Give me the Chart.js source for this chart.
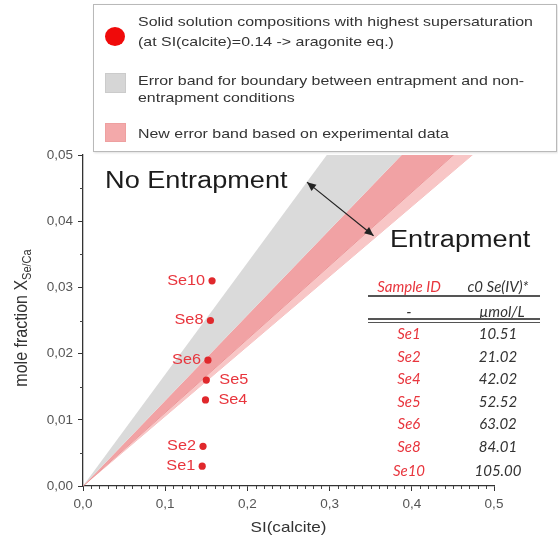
<!DOCTYPE html>
<html>
<head>
<meta charset="utf-8">
<script src="https://cdn.jsdelivr.net/npm/chart.js@4.4.1/dist/chart.umd.min.js"></script>
<style>
  html, body { margin: 0; padding: 0; background: #fff; }
  #wrap { position: relative; width: 558px; height: 544px; overflow: hidden;
          font-family: "Liberation Sans", Arial, sans-serif; }
  #chart { position: absolute; left: 0; top: 0; }
  .box { position: absolute; left: 93px; top: 4px; width: 464px; height: 148px;
         border: 1px solid #b9b9b9; box-sizing: border-box; background: #fff;
         box-shadow: 1px 1px 2px rgba(0,0,0,0.12); }
  .abs { position: absolute; white-space: nowrap; }
  .wide { display: inline-block; transform: scaleX(1.18); transform-origin: 0 50%; }
  .ltxt { font-size: 13.5px; color: #333; line-height: 18px; }
  .tbl { font-family: Lato, "Open Sans", sans-serif; font-style: italic; font-size: 15px;
         line-height: 20px; text-align: center; color: #333; }
  .red { color: #e8353d; }
  .rule { position: absolute; background: #555; }
</style>
</head>
<body>
<div id="wrap">
  <canvas id="chart" width="558" height="544"></canvas>

  <!-- legend box -->
  <div class="box"></div>
  <div class="abs" style="left:105px;top:27px;width:20px;height:19px;border-radius:50%;background:#f00a0a;"></div>
  <div class="abs ltxt" style="left:138px;top:13px;"><span class="wide">Solid solution compositions with highest supersaturation</span></div>
  <div class="abs ltxt" style="left:138px;top:33px;"><span class="wide">(at SI(calcite)=0.14 -&gt; aragonite eq.)</span></div>
  <div class="abs" style="left:105px;top:73px;width:21px;height:20px;background:#d6d6d6;border:1px solid #cbcbcb;box-sizing:border-box;"></div>
  <div class="abs ltxt" style="left:138px;top:72px;"><span class="wide">Error band for boundary between entrapment and non-</span></div>
  <div class="abs ltxt" style="left:138px;top:89px;"><span class="wide">entrapment conditions</span></div>
  <div class="abs" style="left:105px;top:123px;width:21px;height:19px;background:#f3a9aa;border:1px solid #eea0a0;box-sizing:border-box;"></div>
  <div class="abs ltxt" style="left:138px;top:125px;"><span class="wide">New error band based on experimental data</span></div>

  <!-- sample table -->
  <div id="table"></div>
</div>

<script>
// Red points: sample compositions
const sampleIds    = ['Se1', 'Se2', 'Se4', 'Se5', 'Se6', 'Se8', 'Se10'];
const siCalcite    = [0.145, 0.146, 0.149, 0.150, 0.152, 0.155, 0.157];
const moleFraction = [0.003, 0.006, 0.013, 0.016, 0.019, 0.025, 0.031];
const labelSide    = ['left', 'left', 'right', 'right', 'left', 'left', 'left'];

// Initial Se(IV) concentration per sample (µmol/L)
const c0SeIV = ['10.51', '21.02', '42.02', '52.52', '63.02', '84.01', '105.00'];

// Band edges: straight lines through the origin, given at SI = 0 and SI = 0.5
const bandSI    = [0, 0.5];
const greyUpper = [0, 0.0843];
const pinkUpper = [0, 0.0645];
const greyLower = [0, 0.0555];
const pinkLower = [0, 0.0528];

// Axis ticks
const xTicks = [0, 0.1, 0.2, 0.3, 0.4, 0.5];
const yTicks = [0, 0.01, 0.02, 0.03, 0.04, 0.05];

const edge = ys => bandSI.map((x, i) => ({ x, y: ys[i] }));
const comma = (v, d) => v.toFixed(d).replace('.', ',');

// ---- table (HTML) ----
(function buildTable() {
  const t = document.getElementById('table');
  const colA = 409, colB = 498;
  const cell = (txt, cx, cy, cls) => {
    const d = document.createElement('div');
    d.className = 'abs tbl ' + (cls || '');
    d.style.left = (cx - 45) + 'px';
    d.style.width = '90px';
    d.style.top = (cy - 10) + 'px';
    d.textContent = txt;
    t.appendChild(d);
  };
  const rule = (y, h) => {
    const r = document.createElement('div');
    r.className = 'rule';
    r.style.left = '368px'; r.style.width = '172px';
    r.style.top = y + 'px'; r.style.height = h + 'px';
    t.appendChild(r);
  };
  cell('Sample ID', colA, 286, 'red');
  cell('c0 Se(IV)*', colB, 286);
  rule(295, 1.5);
  cell('-', colA, 311);
  cell('µmol/L', colB + 4, 311);
  rule(318, 2);
  rule(321.5, 1.5);
  const rowY = [333, 356, 378, 401, 423, 446, 470];
  sampleIds.forEach((id, i) => {
    cell(id, colA, rowY[i], 'red');
    cell(c0SeIV[i], colB, rowY[i]);
  });
})();

// ---- helpers for canvas text ----
function wideText(ctx, text, px, py, align, stretch) {
  ctx.save();
  ctx.translate(px, py);
  ctx.scale(stretch, 1);
  ctx.textAlign = align;
  ctx.fillText(text, 0, 0);
  ctx.restore();
}

function arrowHead(ctx, x0, y0, x1, y1, len, half) {
  const a = Math.atan2(y1 - y0, x1 - x0);
  ctx.beginPath();
  ctx.moveTo(x1, y1);
  ctx.lineTo(x1 - len * Math.cos(a) + half * Math.sin(a), y1 - len * Math.sin(a) - half * Math.cos(a));
  ctx.lineTo(x1 - len * Math.cos(a) - half * Math.sin(a), y1 - len * Math.sin(a) + half * Math.cos(a));
  ctx.closePath();
  ctx.fill();
}

// Annotations, point labels, minor ticks and axis titles
const decorations = {
  id: 'decorations',
  afterDatasetsDraw(chart) {
    const { ctx, scales: { x, y } } = chart;
    ctx.save();
    // point labels
    ctx.fillStyle = '#e8353d';
    ctx.font = '14px "Liberation Sans", Arial, sans-serif';
    ctx.textBaseline = 'middle';
    sampleIds.forEach((id, i) => {
      const px = x.getPixelForValue(siCalcite[i]);
      const py = y.getPixelForValue(moleFraction[i]);
      if (labelSide[i] === 'left') wideText(ctx, id, px - 7, py, 'right', 1.16);
      else wideText(ctx, id, px + 13, py, 'left', 1.16);
    });

    // region labels
    ctx.fillStyle = '#1c1c1c';
    ctx.font = '23px "Liberation Sans", Arial, sans-serif';
    ctx.textBaseline = 'alphabetic';
    wideText(ctx, 'No Entrapment', x.getPixelForValue(0.0268), y.getPixelForValue(0.0450), 'left', 1.18);
    wideText(ctx, 'Entrapment', x.getPixelForValue(0.3735), y.getPixelForValue(0.0361), 'left', 1.18);

    // double-headed arrow across the bands
    const ax0 = x.getPixelForValue(0.2725), ay0 = y.getPixelForValue(0.0459);
    const ax1 = x.getPixelForValue(0.3535), ay1 = y.getPixelForValue(0.0378);
    ctx.strokeStyle = '#222';
    ctx.fillStyle = '#222';
    ctx.lineWidth = 1.2;
    ctx.beginPath();
    ctx.moveTo(ax0, ay0);
    ctx.lineTo(ax1, ay1);
    ctx.stroke();
    arrowHead(ctx, ax0, ay0, ax1, ay1, 9, 4);
    arrowHead(ctx, ax1, ay1, ax0, ay0, 9, 4);
    ctx.restore();
  },
  afterDraw(chart) {
    const { ctx, scales: { x, y } } = chart;
    ctx.save();
    ctx.strokeStyle = '#444';
    ctx.lineWidth = 1;
    // minor ticks
    const xb = y.getPixelForValue(0), yl = x.getPixelForValue(0);
    for (let k = 1; k < 50; k++) {
      if (k % 10 === 0) continue;
      const px = Math.round(x.getPixelForValue(k / 100)) + 0.5;
      ctx.beginPath(); ctx.moveTo(px, xb); ctx.lineTo(px, xb + 3); ctx.stroke();
    }
    for (let k = 1; k < 10; k += 2) {
      const py = Math.round(y.getPixelForValue(k / 200)) + 0.5;
      ctx.beginPath(); ctx.moveTo(yl, py); ctx.lineTo(yl - 3, py); ctx.stroke();
    }

    // axis titles
    ctx.fillStyle = '#333';
    ctx.textBaseline = 'middle';
    ctx.font = '14.5px "Liberation Sans", Arial, sans-serif';
    wideText(ctx, 'SI(calcite)', (x.left + x.right) / 2 - 38, 528, 'left', 1.18);

    const main = 'mole fraction X', sub = 'Se/Ca';
    ctx.font = '16px "Liberation Sans", Arial, sans-serif';
    const wMain = ctx.measureText(main).width;
    ctx.font = '11px "Liberation Sans", Arial, sans-serif';
    const wSub = ctx.measureText(sub).width;
    ctx.translate(22, 318);
    ctx.rotate(-Math.PI / 2);
    ctx.scale(1, 1.1);
    ctx.textAlign = 'left';
    const start = -(wMain + wSub) / 2;
    ctx.font = '16px "Liberation Sans", Arial, sans-serif';
    ctx.fillText(main, start, 0);
    ctx.font = '11px "Liberation Sans", Arial, sans-serif';
    ctx.fillText(sub, start + wMain, 5);
    ctx.restore();
  }
};

new Chart(document.getElementById('chart'), {
  type: 'line',
  data: {
    datasets: [
      {
        label: 'Solid solution compositions',
        data: siCalcite.map((v, i) => ({ x: v, y: moleFraction[i] })),
        showLine: false,
        pointRadius: 3.6,
        pointBackgroundColor: '#e0282c',
        pointBorderWidth: 0
      },
      { label: 'grey upper', data: edge(greyUpper), fill: '+1', backgroundColor: '#dadada',
        borderWidth: 0, pointRadius: 0 },
      { label: 'pink upper', data: edge(pinkUpper), fill: '+1', backgroundColor: '#f1a2a4',
        borderWidth: 0, pointRadius: 0 },
      { label: 'grey lower', data: edge(greyLower), fill: '+1', backgroundColor: '#f8c6c6',
        borderColor: '#e78c8e', borderWidth: 1, pointRadius: 0 },
      { label: 'pink lower', data: edge(pinkLower), fill: false,
        borderColor: '#f2b0b0', borderWidth: 0.8, pointRadius: 0 }
    ]
  },
  options: {
    responsive: false,
    animation: false,
    devicePixelRatio: 1,
    layout: { padding: { top: 155, right: 64, left: 0, bottom: 0 } },
    plugins: { legend: { display: false }, tooltip: { enabled: false } },
    elements: { line: { tension: 0 } },
    scales: {
      x: {
        type: 'linear', min: 0, max: 0.5,
        afterBuildTicks: s => { s.ticks = xTicks.map(v => ({ value: v })); },
        afterFit: s => { s.height = 58; },
        ticks: { callback: v => comma(v, 1), color: '#555', padding: 5,
                 font: { family: '"Liberation Sans", Arial, sans-serif', size: 13.5 } },
        grid: { drawOnChartArea: false, drawTicks: true, tickLength: 5, tickColor: '#333' },
        border: { color: '#333', width: 1.3 }
      },
      y: {
        type: 'linear', min: 0, max: 0.05,
        afterBuildTicks: s => { s.ticks = yTicks.map(v => ({ value: v })); },
        afterFit: s => { s.width = 83; },
        ticks: { callback: v => comma(v, 2), color: '#555', padding: 5,
                 font: { family: '"Liberation Sans", Arial, sans-serif', size: 13.5 } },
        grid: { drawOnChartArea: false, drawTicks: true, tickLength: 5, tickColor: '#333' },
        border: { color: '#333', width: 1.3 }
      }
    }
  },
  plugins: [decorations]
});
</script>
</body>
</html>
